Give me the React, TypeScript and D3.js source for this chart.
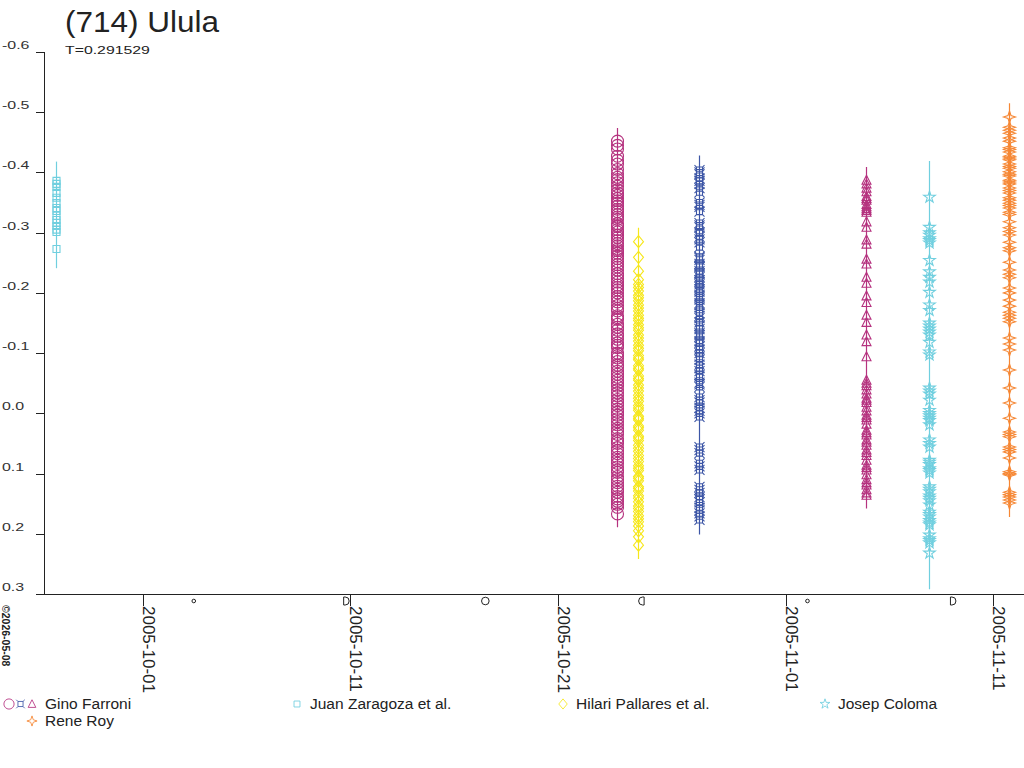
import React from 'react';
import * as d3 from 'd3';

// magnitudes per observing night
const juanMags = [-0.386, -0.381, -0.376, -0.366, -0.358, -0.349, -0.341, -0.336, -0.328, -0.321, -0.316, -0.311, -0.305, -0.301, -0.273];
const ginoCircleMags = [
  -0.452, -0.445, -0.439, -0.427, -0.42, -0.414, -0.405, -0.398, -0.392, -0.388, -0.383, -0.377, -0.371, -0.366, -0.362, -0.357,
  -0.353, -0.349, -0.344, -0.339, -0.335, -0.33, -0.326, -0.322, -0.315, -0.312, -0.31, -0.305, -0.301, -0.296, -0.292, -0.287,
  -0.282, -0.278, -0.273, -0.27, -0.266, -0.261, -0.257, -0.252, -0.247, -0.243, -0.238, -0.232, -0.228, -0.223, -0.218, -0.213,
  -0.209, -0.205, -0.2, -0.194, -0.19, -0.185, -0.179, -0.174, -0.17, -0.162, -0.159, -0.156, -0.148, -0.143, -0.138, -0.132,
  -0.128, -0.123, -0.117, -0.113, -0.109, -0.1, -0.096, -0.092, -0.086, -0.08, -0.076, -0.07, -0.065, -0.06, -0.055, -0.05,
  -0.045, -0.039, -0.034, -0.029, -0.023, -0.018, -0.013, -0.007, -0.002, 0.003, 0.009, 0.014, 0.019, 0.025, 0.03, 0.035, 0.042,
  0.046, 0.05, 0.057, 0.062, 0.067, 0.073, 0.078, 0.083, 0.089, 0.094, 0.098, 0.105, 0.11, 0.115, 0.121, 0.126, 0.131, 0.138,
  0.142, 0.146, 0.151, 0.156, 0.167,
];
const hilariMags = [
  -0.285, -0.259, -0.236, -0.222, -0.214, -0.209, -0.203, -0.196, -0.192, -0.187, -0.18, -0.175, -0.17, -0.163, -0.158, -0.154,
  -0.147, -0.142, -0.138, -0.13, -0.125, -0.12, -0.113, -0.108, -0.104, -0.096, -0.092, -0.089, -0.079, -0.075, -0.072, -0.062,
  -0.058, -0.055, -0.047, -0.042, -0.037, -0.03, -0.025, -0.02, -0.013, -0.009, -0.005, 0.005, 0.008, 0.011, 0.021, 0.024, 0.028,
  0.038, 0.041, 0.045, 0.053, 0.058, 0.063, 0.07, 0.075, 0.08, 0.087, 0.091, 0.095, 0.105, 0.108, 0.112, 0.122, 0.125, 0.129,
  0.137, 0.141, 0.147, 0.154, 0.158, 0.163, 0.17, 0.175, 0.18, 0.187, 0.195, 0.205, 0.219,
];
const ginoCrossMags = [
  -0.404, -0.4, -0.397, -0.39, -0.386, -0.381, -0.374, -0.367, -0.35, -0.346, -0.343, -0.335, -0.316, -0.312, -0.309, -0.3,
  -0.293, -0.289, -0.284, -0.276, -0.26, -0.258, -0.255, -0.248, -0.245, -0.243, -0.236, -0.233, -0.231, -0.226, -0.221, -0.218,
  -0.214, -0.21, -0.206, -0.202, -0.196, -0.193, -0.189, -0.183, -0.18, -0.176, -0.166, -0.162, -0.158, -0.151, -0.145, -0.14,
  -0.133, -0.13, -0.127, -0.12, -0.117, -0.111, -0.106, -0.1, -0.094, -0.089, -0.081, -0.075, -0.07, -0.064, -0.061, -0.051,
  -0.048, -0.044, -0.027, -0.022, -0.018, -0.009, -0.004, 0.0, 0.006, 0.056, 0.061, 0.066, 0.083, 0.088, 0.094, 0.122, 0.127,
  0.132, 0.139, 0.143, 0.148, 0.157, 0.161, 0.166, 0.171, 0.177,
];
const ginoTriangleMags = [
  -0.387, -0.381, -0.374, -0.368, -0.36, -0.357, -0.354, -0.347, -0.343, -0.34, -0.337, -0.334, -0.318, -0.309, -0.288, -0.281,
  -0.256, -0.248, -0.226, -0.216, -0.195, -0.184, -0.163, -0.151, -0.13, -0.119, -0.094, -0.055, -0.05, -0.046, -0.039, -0.032,
  -0.025, -0.022, -0.018, -0.01, -0.004, 0.003, 0.007, 0.011, 0.018, 0.028, 0.032, 0.036, 0.044, 0.048, 0.053, 0.061, 0.065,
  0.07, 0.078, 0.086, 0.09, 0.094, 0.102, 0.11, 0.115, 0.119, 0.127, 0.132, 0.136,
];
const josepMags = [
  -0.359, -0.309, -0.3, -0.296, -0.29, -0.287, -0.283, -0.254, -0.235, -0.226, -0.218, -0.201, -0.18, -0.171, -0.15, -0.145,
  -0.14, -0.135, -0.13, -0.118, -0.102, -0.097, -0.042, -0.037, -0.032, -0.022, -0.005, 0.0, 0.004, 0.008, 0.012, 0.019, 0.044,
  0.05, 0.056, 0.078, 0.081, 0.085, 0.092, 0.095, 0.099, 0.122, 0.126, 0.13, 0.137, 0.141, 0.145, 0.152, 0.164, 0.168, 0.172,
  0.178, 0.182, 0.185, 0.202, 0.208, 0.211, 0.215, 0.232,
];
const reneMags = [
  -0.492, -0.475, -0.47, -0.465, -0.457, -0.452, -0.441, -0.438, -0.434, -0.427, -0.424, -0.421, -0.414, -0.41, -0.407, -0.401,
  -0.397, -0.394, -0.387, -0.384, -0.381, -0.374, -0.37, -0.366, -0.358, -0.354, -0.349, -0.345, -0.341, -0.334, -0.33, -0.318,
  -0.308, -0.302, -0.296, -0.284, -0.275, -0.27, -0.251, -0.238, -0.231, -0.225, -0.208, -0.2, -0.188, -0.178, -0.168, -0.163,
  -0.158, -0.152, -0.125, -0.115, -0.105, -0.072, -0.042, -0.017, 0.008, 0.031, 0.035, 0.039, 0.056, 0.06, 0.064, 0.074, 0.097,
  0.1, 0.102, 0.131, 0.135, 0.139, 0.144, 0.149,
];

const sessionNames = ['juan', 'ginoCircle', 'hilari', 'ginoCross', 'ginoTriangle', 'josep', 'rene'];
const sessionDates = [
  '2005-09-26T19:00Z', '2005-10-23T20:30Z', '2005-10-24T21:00Z', '2005-10-27T19:40Z',
  '2005-11-04T21:00Z', '2005-11-07T22:00Z', '2005-11-11T18:40Z',
];
const sessionErrors = [0.032, 0.022, 0.023, 0.024, 0.022, 0.06, 0.023];

const dateTicks = ['2005-10-01', '2005-10-11', '2005-10-21', '2005-11-01', '2005-11-11'];
const moonDates = ['2005-10-03T10:28Z', '2005-10-10T19:01Z', '2005-10-17T12:14Z', '2005-10-25T01:17Z', '2005-11-02T01:25Z', '2005-11-09T01:57Z'];
const moonPhases = ['new', 'first', 'full', 'last', 'new', 'first'];

const legendLabels = ['Gino Farroni', 'Juan Zaragoza et al.', 'Hilari Pallares et al.', 'Josep Coloma', 'Rene Roy'];

const colors = {
  magenta: '#b5327f',
  blue: '#3d56a6',
  yellow: '#f6e71c',
  cyan: '#70cfdf',
  orange: '#f68734',
};

const star5 = d3.symbol().type(d3.symbolStar).size(42)() as string;
const markerPath = {
  circle: 'M6,0A6,6,0,1,1,-6,0A6,6,0,1,1,6,0Z',
  square: 'M-3.5,-3.5h7v7h-7Z',
  diamond: 'M0,-6L5,0L0,6L-5,0Z',
  triangle: 'M0,-5L4.5,4L-4.5,4Z',
  cross: 'M-3,-3h6v6h-6Z M-3,-3l-2,-2 M3,-3l2,-2 M3,3l2,2 M-3,3l-2,2',
  star: star5,
  star4: 'M0,-6L1.5,-1.5L6,0L1.5,1.5L0,6L-1.5,1.5L-6,0L-1.5,-1.5Z',
};

const sessionStyle = {
  juan: { marker: 'square', color: colors.cyan },
  ginoCircle: { marker: 'circle', color: colors.magenta },
  hilari: { marker: 'diamond', color: colors.yellow },
  ginoCross: { marker: 'cross', color: colors.blue },
  ginoTriangle: { marker: 'triangle', color: colors.magenta },
  josep: { marker: 'star', color: colors.cyan },
  rene: { marker: 'star4', color: colors.orange },
};

const sessionMags = [juanMags, ginoCircleMags, hilariMags, ginoCrossMags, ginoTriangleMags, josepMags, reneMags];

const font = '"Liberation Sans", Arial, sans-serif';

const App = () => {
  const width = 1024;
  const height = 768;

  const x = d3
    .scaleUtc()
    .domain([new Date('2005-10-01T00:00Z'), new Date('2005-11-11T00:00Z')])
    .range([143.3, 992.7]);
  const y = d3.scaleLinear().domain([-0.6, 0.3]).range([52, 594]);

  const axisLeft = 44.5;
  const axisBottom = 594.5;

  const sessions = sessionNames.map((name, i) => ({
    name,
    date: new Date(sessionDates[i]),
    err: sessionErrors[i],
    mags: sessionMags[i],
    ...sessionStyle[name],
  }));

  const moonSymbol = (phase, cx) => {
    const cy = 601;
    if (phase === 'new') return <circle cx={cx} cy={cy} r={1.8} fill="none" stroke="#222" strokeWidth={1} />;
    if (phase === 'full') return <circle cx={cx} cy={cy} r={3.8} fill="none" stroke="#222" strokeWidth={1} />;
    if (phase === 'first')
      return <path d={`M${cx - 2.5},${cy - 4}v8h1.5a4,4,0,0,0,0,-8Z`} fill="none" stroke="#222" strokeWidth={1} />;
    return <path d={`M${cx + 2.5},${cy - 4}v8h-1.5a4,4,0,0,1,0,-8Z`} fill="none" stroke="#222" strokeWidth={1} />;
  };

  const legendItems = [
    { label: legendLabels[0], markers: ['circle', 'cross', 'triangle'], colors: [colors.magenta, colors.blue, colors.magenta], x: 45, y: 709 },
    { label: legendLabels[1], markers: ['square'], colors: [colors.cyan], x: 310, y: 709 },
    { label: legendLabels[2], markers: ['diamond'], colors: [colors.yellow], x: 576, y: 709 },
    { label: legendLabels[3], markers: ['star'], colors: [colors.cyan], x: 838, y: 709 },
    { label: legendLabels[4], markers: ['star4'], colors: [colors.orange], x: 45, y: 726 },
  ];

  const fmt = (v) => (Math.abs(v) < 1e-9 ? 0 : v).toFixed(1);

  return (
    <svg
      width={width}
      height={height}
      style={{ position: 'absolute', left: 0, top: 0, background: '#fff', fontFamily: font }}
    >
      <rect width={width} height={height} fill="#fff" />

      <text x={65} y={32} fontSize={30} fill="#222" transform="translate(65,0) scale(1.05,1) translate(-65,0)">
        (714) Ulula
      </text>
      <text x={65} y={54} fontSize={11} fill="#222" transform="translate(65,0) scale(1.44,1) translate(-65,0)">
        T=0.291529
      </text>

      {/* y axis */}
      <g shapeRendering="crispEdges">
        <line x1={axisLeft} x2={axisLeft} y1={y(-0.6)} y2={axisBottom} stroke="#222" />
        <line x1={36} x2={width} y1={axisBottom} y2={axisBottom} stroke="#222" />
      </g>
      {y.ticks(10).map((t) => (
        <g key={t}>
          <line x1={36} x2={axisLeft} y1={Math.round(y(t)) + 0.5} y2={Math.round(y(t)) + 0.5} stroke="#222" shapeRendering="crispEdges" />
          <text x={2} y={y(t) - 3} fontSize={11} fill="#333" transform={`translate(2,0) scale(1.45,1) translate(-2,0)`}>
            {fmt(t)}
          </text>
        </g>
      ))}

      {/* x axis */}
      {dateTicks.map((d) => {
        const tx = Math.round(x(new Date(d + 'T00:00Z'))) + 0.5;
        return (
          <g key={d}>
            <line x1={tx} x2={tx} y1={axisBottom} y2={606} stroke="#222" shapeRendering="crispEdges" />
            <text x={0} y={0} fontSize={17} fill="#222" transform={`translate(${tx - 0.5},606) rotate(90)`}>
              {d}
            </text>
          </g>
        );
      })}
      {moonDates.map((d, i) => (
        <g key={d}>{moonSymbol(moonPhases[i], x(new Date(d)))}</g>
      ))}

      <text x={0} y={0} fontSize={10.5} fontWeight="bold" fill="#222" transform="translate(2,605) rotate(90)">
        ©2026-05-08
      </text>

      {/* sessions */}
      {sessions.map((s) => {
        const cx = Math.round(x(s.date)) + 0.5;
        const lo = d3.min(s.mags) - s.err;
        const hi = d3.max(s.mags) + s.err;
        return (
          <g key={s.name}>
            <line x1={cx} x2={cx} y1={y(lo)} y2={y(hi)} stroke={s.color} strokeWidth={1.2} />
            {s.mags.map((m, j) => (
              <path
                key={j}
                d={markerPath[s.marker]}
                transform={`translate(${cx},${y(m)})`}
                fill="none"
                stroke={s.color}
                strokeWidth={1.1}
              />
            ))}
          </g>
        );
      })}

      {/* legend */}
      {legendItems.map((item) => (
        <g key={item.label}>
          {item.markers.map((mk, k) => (
            <path
              key={k}
              d={markerPath[mk]}
              transform={`translate(${item.x - 13 - (item.markers.length - 1 - k) * 11.5},${item.y - 5}) scale(0.85)`}
              fill="none"
              stroke={item.colors[k]}
              strokeWidth={1}
            />
          ))}
          <text x={item.x} y={item.y} fontSize={15.5} fill="#222">
            {item.label}
          </text>
        </g>
      ))}
    </svg>
  );
};

export default App;
